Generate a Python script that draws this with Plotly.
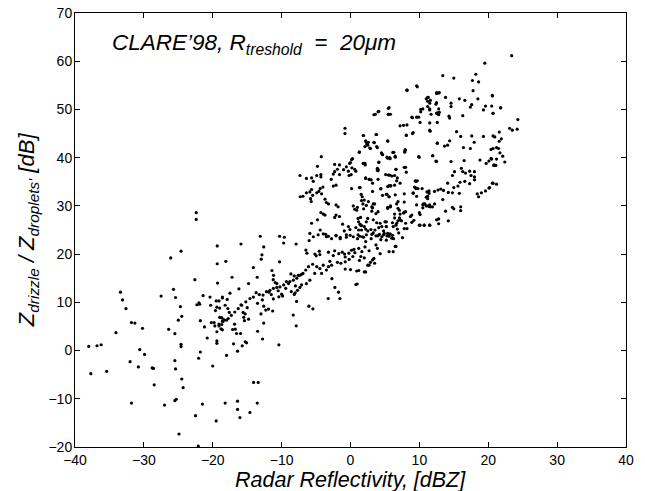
import plotly.graph_objects as go

# ---- data: radar reflectivity [dBZ] vs Z_drizzle/Z_droplets [dB] ----
# sparse low-reflectivity points
refl_a = [-19.35,-24.6,-26.1,-19.35,-22.6,-19.3,-33.4,-25.7,-27.5,-25.4,-33.1,-21.4,-20.4,-19.5,-19.1,-22.0,-22.3,-21.9,-20.3,-19.4,-19.0,-19.6,-32.6,-24.7,-18.6,-24.5,-25.0,-31.8,-31.3,-30.2,-21.8,-21.2,-20.2,-19.8,-19.7,-19.1,-19.0,-18.7,-18.6,-18.8,-19.1,-19.4,-26.4,-25.5,-34.05,-20.8,-19.4,-19.4,-38.0,-36.8,-36.2,-24.6,-24.6,-30.6,-29.9,-21.8,-22.05,-32.0,-30.8,-28.8,-28.6,-25.5,-20.0,-25.4,-37.7,-35.4,-24.5,-24.3,-28.5,-31.8,-27.0,-25.5,-25.3,-21.5,-22.5,-19.5,-24.9,-22.1,-22.4,-22.4]
ratio_a = [21.7,20.6,19.2,18.0,14.7,14.0,12.1,12.7,11.3,11.0,10.5,11.4,11.1,10.3,10.3,9.9,9.5,9.6,9.4,9.0,8.8,8.3,8.7,9.1,11.1,7.1,6.3,5.8,5.7,4.6,6.2,4.9,5.8,5.8,5.1,5.5,6.9,6.8,6.1,4.5,5.1,3.9,4.4,3.5,3.7,2.6,2.0,1.5,0.85,1.0,1.2,1.3,0.8,0.2,-0.8,-0.3,-1.6,-2.3,-3.4,-3.6,-3.7,-2.1,-3.2,-3.8,-4.8,-4.3,-5.9,-7.7,-7.1,-10.9,-11.3,-10.4,-10.1,-11.1,-13.5,-14.6,-17.3,-19.8,28.6,27.2]

# -20..0 dBZ region
refl_b = [-13.1,-10.3,-9.6,-15.9,-12.6,-9.7,-7.9,-6.0,-4.7,-3.6,-3.2,-2.1,-1.5,-0.9,-0.6,-0.05,-18.1,-12.86,-12.96,-6.48,-6.33,-5.17,-4.98,-4.54,-4.45,-10.3,-14.1,-17.2,-11.41,-11.17,-11.22,-10.93,-10.69,-8.65,-8.17,-7.59,-7.11,-13.54,-14.8,-16.2,-17.5,-10.4,-9.86,-8.03,-8.17,-7.83,-8.32,-7.88,-6.04,-5.46,-12.6,-13.49,-12.77,-10.4,-16.83,-17.12,-16.73,-16.54,-15.96,-16.98,-15.28,-15.09,-15.72,-16.4,-17.99,-14.07,-13.4,-18.2,-16.4,-13.54,-16.4,-14.6,-16.06,-2.27,-1.74,-1.54,-3.24,0.97,-2.7,1.2,-0.77,0.0]
ratio_b = [23.7,23.7,23.5,22.1,21.5,22.3,22.1,22.8,24.0,24.1,23.7,23.9,23.2,24.8,23.5,23.9,18.5,19.86,18.96,20.83,20.2,20.0,19.65,20.6,19.9,18.4,17.2,15.2,16.6,15.6,14.7,14.1,13.9,15.9,15.5,15.6,15.8,15.2,13.9,12.8,11.9,11.15,11.29,11.98,11.63,10.18,7.35,5.13,9.21,8.66,5.7,4.0,2.4,1.19,5.48,4.37,4.44,3.54,3.54,1.4,1.81,1.6,0.98,-0.12,-1.02,-6.6,-6.6,-10.9,-10.5,-10.9,-12.2,-12.85,-13.9,13.1,12.1,10.8,10.8,13.8,14.9,16.6,16.9,16.8]

# main rising band (-19..1 dBZ)
refl_c = [-3.2,-2.3,-2.5,-1.7,-1.2,-0.86,-0.77,-0.24,0.15,0.5,0.63,0.34,-0.2,-0.77,-1.4,-1.9,-3.0,-2.75,-3.2,-3.96,-4.45,-4.9,-5.5,-6.1,-6.5,-6.9,-7.35,-7.8,-8.3,-8.8,-9.3,-9.7,-10.25,-10.7,-11.2,-11.7,-12.2,-12.7,-13.25,-13.7,-14.1,-14.6,-15.2,-15.8,-16.3,-16.8,-17.3,-17.75,-18.5,-5.9,-5.2,-4.2,-3.5,-6.4,-7.1,-8.0,-9.0,-7.35,-7.7,-8.6,-9.4,-10.0,-10.5,-11.2,-11.85,-11.5,-12.6,-11.9,-11.3,-12.3,-13.0,-12.8,-13.5,-15.9,-15.6,-15.3,-15.5,-15.4,-14.8,-15.0,-18.2,-17.8,-17.6,-18.7,-18.4,-18.0,-18.7,-18.6,-17.9,-18.6]
ratio_c = [20.4,20.7,19.7,20.1,20.4,20.0,19.4,20.2,20.8,21.0,20.3,19.5,18.9,18.4,18.1,18.3,18.5,17.7,17.4,17.7,17.0,17.4,17.9,17.4,16.7,16.0,15.6,15.0,14.6,14.3,14.3,13.6,13.2,13.1,12.9,12.5,12.2,11.5,11.6,12.0,11.1,10.8,10.1,9.4,8.7,8.0,7.3,6.65,6.0,14.6,16.0,16.0,16.7,13.9,13.6,13.4,13.9,13.1,12.5,12.2,12.9,11.7,12.4,10.7,12.1,11.6,9.2,8.6,8.2,8.4,7.6,10.5,9.8,9.5,7.9,7.6,6.9,6.2,6.5,8.9,9.4,8.7,7.9,6.8,6.4,6.3,5.4,4.3,10.6,10.9]

# 0..21 dBZ, lower half
refl_d = [1.89,3.78,8.1,9.0,11.57,15.4,16.0,17.6,19.3,20.7,2.3,2.5,2.1,2.8,3.4,3.8,5.4,1.26,4.6,5.3,5.76,6.15,6.49,7.94,7.85,9.97,11.96,12.6,13.65,14.1,14.4,16.4,17.4,17.96,20.4,12.5,14.6,16.5,18.8,19.7,20.1,20.5,20.86,1.84,2.13,4.1,7.8,8.1,4.0,4.0,6.6,5.5,6.0,6.4,6.7,2.2,2.76,3.2,0.78,1.3,4.4,5.4,5.86,6.4,9.4,9.7,9.3,9.6,11.1,11.4,9.1,7.8,13.1,13.5,14.1,14.8,15.1,16.1,16.3,16.7,17.3,17.5,18.0,18.0,18.0,17.3,16.6,15.9,15.6,15.0,15.8,14.8,14.2,18.4,18.6,19.0,19.6,20.1,20.7]
ratio_d = [44.6,44.8,44.6,45.0,45.5,45.4,44.4,44.5,44.4,44.5,43.2,42.6,42.3,42.0,43.2,42.3,43.5,41.1,40.7,40.1,39.8,41.1,40.3,41.6,41.2,40.1,40.4,43.0,42.4,42.6,43.5,42.1,41.9,43.2,41.7,39.2,39.2,39.4,39.5,38.8,39.3,39.7,38.5,38.8,38.5,39.0,38.0,37.0,37.6,37.3,37.6,36.4,36.2,36.3,35.2,35.7,35.5,34.7,37.2,33.8,33.6,34.0,34.2,34.3,35.2,35.2,33.9,33.7,32.9,33.1,32.7,32.5,33.5,33.2,34.7,36.3,37.1,37.8,37.1,36.8,37.2,36.3,37.1,36.0,35.4,34.6,35.1,34.9,34.1,33.8,32.6,32.7,32.8,32.5,31.9,32.7,33.1,33.7,34.7]

refl_e = [13.4,11.2,10.5,11.0,11.6,12.2,11.4,10.8,10.5,9.6,8.0,7.7,7.1,6.4,5.8,5.4,4.0,3.2,3.5,4.65,5.2,5.6,6.9,2.0,1.7,1.55,1.0,0.9,1.9,2.3,13.8,14.2,14.8,15.0,16.0,16.0,12.8,10.1,8.7,9.2,8.9,10.0,10.7,11.5,12.8,7.1,6.9,7.4,8.2,7.8,6.4,6.1,6.6,6.8,4.3,5.2,5.2,4.55,4.8,3.8,3.3,1.46,1.17,1.5,2.0,2.5]
ratio_e = [31.3,31.5,30.2,30.0,29.8,30.4,29.9,30.4,29.6,30.2,28.8,28.5,29.1,28.3,29.8,29.5,28.8,29.6,30.4,32.2,32.4,31.9,30.9,31.2,31.9,32.4,29.7,29.1,29.4,30.1,28.9,26.9,29.7,29.4,29.8,29.0,27.3,28.2,27.8,27.0,26.6,26.0,26.0,26.0,26.3,27.5,26.9,26.9,25.3,25.3,27.5,26.5,26.0,25.2,26.4,26.7,25.7,25.7,24.8,26.5,27.1,27.6,26.7,26.0,25.7,27.4]

refl_f = [0.78,1.17,1.6,2.2,2.5,2.96,3.3,3.7,4.2,4.55,4.9,5.4,5.76,6.1,4.4,5.2,5.6,6.25,7.55,1.36,1.02,1.75,2.2,3.0,3.7,3.9,4.3,2.1,2.7,1.65,1.2,6.5,6.6,5.6,6.2,3.4,3.2,2.9,1.5,2.0,1.3,2.5,2.7,2.2,2.0,0.9,0.78,3.5,7.0]
ratio_f = [25.5,25.0,25.0,25.2,24.8,25.1,24.4,23.8,24.1,23.6,24.3,24.3,24.2,23.9,23.0,22.9,23.7,23.2,23.4,23.7,23.2,23.6,22.6,23.2,21.9,21.2,20.1,21.5,20.7,20.5,21.2,21.6,21.6,20.5,20.5,19.1,18.8,18.3,19.5,19.2,18.7,17.7,17.7,16.3,16.3,16.5,13.7,18.1,24.4]

# 20..24 dBZ
refl_g = [23.4,20.6,20.5,20.7,21.8,24.3,23.1,23.5,24.2,21.6,20.95,21.9,21.6,20.7,21.2,21.5,21.7,22.1,22.4,20.4,21.2,20.8,21.1,20.6,21.2,20.2]
ratio_g = [61.15,52.9,50.7,49.2,50.3,47.9,46.1,45.7,45.9,45.3,44.3,43.9,43.4,41.9,42.1,41.9,41.0,40.3,39.1,39.85,39.7,38.4,38.4,34.7,34.5,33.8]

# -7..13 dBZ, upper middle
refl_h = [9.6,8.2,11.3,11.0,12.5,12.9,11.5,12.4,10.2,10.2,11.5,11.7,12.6,12.8,8.9,9.6,5.5,5.5,5.8,4.0,3.4,7.2,7.7,8.2,9.1,8.1,10.1,11.5,11.5,12.6,-0.8,-0.8,1.85,3.7,5.4,2.6,2.4,2.2,3.45,2.9,3.9,4.5,4.66,1.3,0.3,0.0,5.4,5.7,6.3,6.5,7.95,7.9,9.9,11.9,12.6,12.4,4.13,3.9,3.9,6.6,8.0,5.1,5.7,6.8,-4.24,-7.34,-4.8,-4.9,-4.3,-4.3,-6.4,-5.65,-5.4,-2.3,-1.6,-1.9,0.16,-0.13,-0.6,-0.3,0.1,0.6,-0.2,0.2,2.1,2.2,2.7,3.0,4.0,1.4,3.2,4.4,5.6,5.8,5.3,5.6,6.5,7.2]
ratio_h = [54.9,54.0,52.5,52.2,53.5,53.5,51.3,51.1,50.0,49.5,49.9,49.0,49.3,48.9,48.4,48.4,50.2,49.0,49.0,49.5,48.9,46.6,46.7,46.8,45.2,44.7,47.3,47.2,45.7,47.3,46.1,45.0,44.6,44.8,43.4,43.2,42.8,43.5,43.1,41.9,42.1,41.0,40.6,41.2,39.8,39.0,39.9,40.0,41.1,40.1,41.6,41.2,40.2,40.4,43.0,39.3,39.1,37.8,37.4,37.6,38.0,36.5,36.4,35.8,40.2,36.3,38.2,36.3,36.5,36.0,35.7,35.8,35.1,38.6,38.5,37.6,39.6,38.8,38.1,37.2,36.5,37.6,36.3,37.9,38.8,35.8,35.5,35.4,35.5,33.8,33.0,33.5,34.2,34.1,32.4,31.9,32.3,34.7]

refl_i = [5.4,5.8,6.7,6.9,7.2,7.8,7.8,9.8,9.5,9.1,9.5,9.6,10.4,11.4,11.0,11.2,12.2,12.7,10.6,11.3,11.5,11.9,10.1,10.7,11.5,12.5,8.9,10.0,-7.3,-6.9,-6.4,-5.9,-5.65,-5.5,-5.8,-5.7,-4.9,-4.6,-4.4,-4.0,-4.2,-3.7,-2.3,-2.5,-1.6,-1.0,-2.8,-2.5,-2.1,0.16,-3.5,-3.2,-2.1,-1.8,-1.6,0.4,0.6,1.6,1.8,2.6,3.1,3.3,3.1,3.7,-4.3,-3.95,-5.65,-4.8,-3.7,-2.1,-2.3,-1.15,-0.3,-0.08,1.1,1.37,1.6,2.3,3.55,4.1,5.0,5.2,6.2,6.7,7.2,8.0]
ratio_i = [29.7,30.0,30.4,29.5,28.3,30.8,28.7,33.6,33.6,32.6,35.1,32.0,33.6,32.6,31.8,32.0,33.0,33.3,30.4,30.0,30.2,29.8,26.0,26.0,26.0,27.1,28.1,28.6,31.9,32.0,32.7,32.9,33.4,32.2,31.5,30.9,32.7,33.0,33.6,33.9,32.5,31.4,37.1,36.6,36.5,37.5,35.5,34.1,34.3,33.6,30.7,30.4,30.2,29.8,27.8,30.0,29.3,31.1,30.4,30.9,29.8,30.4,28.9,28.4,28.6,28.3,26.4,27.1,28.1,28.1,27.6,26.2,25.7,25.1,27.4,26.2,25.9,26.7,25.0,25.5,26.7,25.7,25.7,26.4,27.1,26.4]

# dense band 23-25 dB near -6..5 dBZ
refl_j = [-5.9,-5.4,-4.4,-3.95,-3.5,-2.75,-2.1,-1.5,-0.6,0.4,1.1,1.9,2.3,3.1,4.0,4.8,5.3,6.0]
ratio_j = [24.3,23.6,25.0,24.2,23.6,23.2,23.8,23.5,24.0,23.6,24.0,23.5,24.0,24.1,23.8,24.0,23.8,23.3]

# highest points (top right)
refl_k = [19.5,18.2,13.4,15.0,18.6,17.7,8.2,9.7,17.8,12.5,12.8,11.2,13.8,20.6,18.5,15.8,16.6,11.2,11.6,12.5,14.6,14.6,17.6,17.4,11.2,11.5,12.8,19.6,19.3,20.7,21.8,10.5,12.5,12.9,3.6,4.1,5.6,5.5,9.0,9.9,16.3,14.3,14.4]
ratio_k = [59.6,57.3,57.0,56.5,55.7,56.0,54.0,54.7,53.9,53.3,53.4,52.5,52.5,52.8,52.2,52.2,51.9,51.7,51.9,51.4,51.3,50.6,51.0,50.5,50.6,50.1,50.1,50.7,49.9,49.2,50.4,50.1,49.2,49.4,49.0,49.6,50.4,49.0,48.3,48.4,48.7,48.6,48.2]

x_ticks = [-40, -30, -20, -10, 0, 10, 20, 30, 40]
y_ticks = [-20, -10, 0, 10, 20, 30, 40, 50, 60, 70]

refl = refl_a + refl_b + refl_c + refl_d + refl_e + refl_f + refl_g + refl_h + refl_i + refl_j + refl_k
ratio = ratio_a + ratio_b + ratio_c + ratio_d + ratio_e + ratio_f + ratio_g + ratio_h + ratio_i + ratio_j + ratio_k

FONT = "Liberation Sans, Arial, sans-serif"

fig = go.Figure()
fig.add_trace(go.Scatter(
    x=refl, y=ratio, mode="markers",
    marker=dict(color="black", size=3.2, symbol="circle", line=dict(width=0)),
    showlegend=False, hoverinfo="x+y",
))

axis_common = dict(
    showline=True, linecolor="black", linewidth=1, mirror="ticks",
    ticks="inside", ticklen=5, tickcolor="black", tickwidth=1,
    showgrid=False, zeroline=False, automargin=False,
    tickfont=dict(family=FONT, size=14, color="black"),
)
fig.update_xaxes(range=[-40, 40], tickvals=x_ticks,
                 ticktext=[str(v).replace("-", "\u2212") for v in x_ticks],
                 ticklabelstandoff=0, **axis_common)
fig.update_yaxes(range=[-20, 70], tickvals=y_ticks,
                 ticktext=[str(v).replace("-", "\u2212") for v in y_ticks],
                 ticklabelstandoff=-1, **axis_common)

fig.update_layout(
    template="none",
    width=645, height=491,
    margin=dict(l=75, r=19, t=13, b=44, autoexpand=False),
    paper_bgcolor="white", plot_bgcolor="white",
    font=dict(family=FONT, color="black"),
    annotations=[
        dict(text="<i>CLARE\u201998, R<sub>treshold</sub>  =  20\u03bcm</i>",
             xref="paper", yref="paper", x=0.063, y=0.928,
             xanchor="left", yanchor="middle", showarrow=False,
             font=dict(family=FONT, size=22.5, color="black")),
        dict(text="<i>Radar Reflectivity, [dBZ]</i>",
             xref="paper", yref="paper", x=0.5, y=-0.0755,
             xanchor="center", yanchor="middle", showarrow=False,
             borderpad=0,
             font=dict(family=FONT, size=21.5, color="black")),
        dict(text="<i>Z<sub>drizzle</sub> / Z<sub>droplets'</sub> [dB]</i>",
             xref="paper", yref="paper", x=-0.085, y=0.5,
             xanchor="center", yanchor="middle", textangle=-90, showarrow=False,
             font=dict(family=FONT, size=22, color="black")),
    ],
)

fig.write_html("out.html", config={"displayModeBar": False},
               post_script="document.body.style.margin='0px';")
